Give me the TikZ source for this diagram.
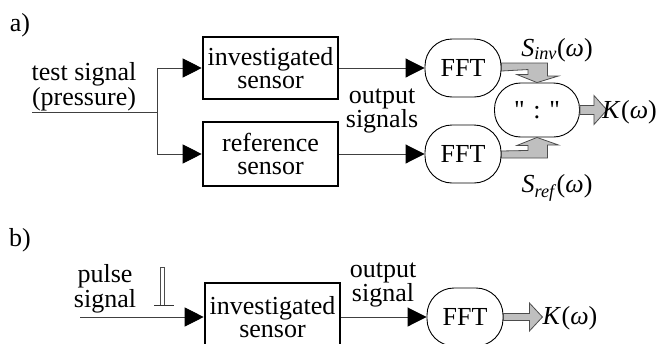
\documentclass[tikz,border=0pt]{standalone}
\usepackage{fontspec}
\setmainfont{Liberation Serif}
% same face without TeX ligature mapping, for straight double quotes
\newfontfamily\plainserif{Liberation Serif}
\usetikzlibrary{arrows.meta,calc}

\begin{document}
\begin{tikzpicture}[x=1pt,y=-1pt,
  every node/.style={font=\fontsize{26}{21}\selectfont, inner sep=0pt},
  sensorbox/.style={draw, line width=2.6pt, minimum width=135pt, minimum height=62pt, align=center,
    font=\fontsize{26}{23.5}\selectfont},
  fftnode/.style={draw, line width=0.9pt, rounded corners=27pt, minimum width=76pt, minimum height=58pt, fill=white},
  sig/.style={draw=black!75, line width=0.9pt, -{Triangle[length=19pt,width=19pt,black]}},
  blockarrow/.style={draw=black!70, line width=0.8pt, fill=black!25, line join=miter},
  lbl/.style={align=center}
]
\useasboundingbox (0,0) rectangle (658,343);
\clip (0,0) rectangle (658,343);

% ---------- a) ----------
\node (la) at (20,25) {a)};
\node[lbl] (tsig) at (84,87) {test signal\\(pressure)};

\node[sensorbox] (inv) at (270.5,68) {investigated\\sensor};
\node[sensorbox, minimum height=64pt] (ref) at (270.5,154) {reference\\sensor};

\node[fftnode] (fft1) at (463,68) {FFT};
\node[fftnode] (fft2) at (463,154) {FFT};
\node[fftnode, minimum width=85pt, minimum height=54pt, rounded corners=26pt] (ratio) at (537,110)
  {\plainserif "\,\,:\,\,"};

\coordinate (ain) at (32,112);
\coordinate (split) at (157,112);
\draw[draw=black!75, line width=0.9pt] (ain) -- (split);
\draw[sig] (split) |- (inv.west);
\draw[sig] (split) |- (ref.west);
\draw[sig] (inv) -- (fft1);
\draw[sig] (ref) -- (fft2);

\node[lbl] (outs) at (382,111) {output\\signals};

% bent block arrows into the ratio block
\draw[blockarrow] ($(fft1.east)+(0,-5)$) -- ++(46,0) -- ++(0,13) -- ++(11,0)
  -- (ratio.north) -- ++(-20,-8) -- ++(11,0) -- ++(0,-5)
  -- ($(fft1.east)+(0,3)$) -- cycle;
\draw[blockarrow] ($(fft2.east)+(0,4)$) -- ++(46,0) -- ++(0,-13) -- ++(11,0)
  -- (ratio.south) -- ++(-20,8) -- ++(11,0) -- ++(0,5)
  -- ($(fft2.east)+(0,-3)$) -- cycle;
\draw[blockarrow] ($(ratio.east)+(0,-4.5)$) -- ++(14,0) -- ++(0,-10)
  -- ($(ratio.east)+(27,0)$) -- ++(-13,14.5) -- ++(0,-10)
  -- ($(ratio.east)+(0,4.5)$) -- cycle;

\node (sinv) at (557,50) {\textit{S}\textsubscript{\textit{inv}}(\textit{ω})};
\node (sref) at (557,188) {\textit{S}\textsubscript{\textit{ref}}(\textit{ω})};
\node[anchor=east] (ka) at (657,112) {\textit{K}\kern0.5pt(\textit{ω})};

% ---------- b) ----------
\node (lb) at (20,240) {b)};
\node[lbl] (psig) at (105,289) {pulse\\signal};
% pulse symbol
\draw[black!70, line width=0.8pt] (160,305) rectangle (164,267);
\draw[black!80, line width=0.8pt] (154,305) -- (174,305);

\node[sensorbox, minimum height=68pt] (invb) at (272.5,317) {investigated\\sensor};
\node[fftnode] (fftb) at (465,317) {FFT};

\coordinate (bin) at (80,317);
\draw[sig] (bin) -- (invb.west);
\draw[sig] (invb) -- (fftb);
\node[lbl] (outb) at (383,285) {output\\signal};

\draw[blockarrow] ($(fftb.east)+(0,-3.5)$) -- ++(26,0) -- ++(0,-10.5)
  -- ($(fftb.east)+(39,0)$) -- ++(-13,14) -- ++(0,-10.5)
  -- ($(fftb.east)+(0,3.5)$) -- cycle;
\node[anchor=west] (kb) at ($(fftb.east)+(39,1)$) {\textit{K}\kern0.5pt(\textit{ω})};
\end{tikzpicture}
\end{document}
